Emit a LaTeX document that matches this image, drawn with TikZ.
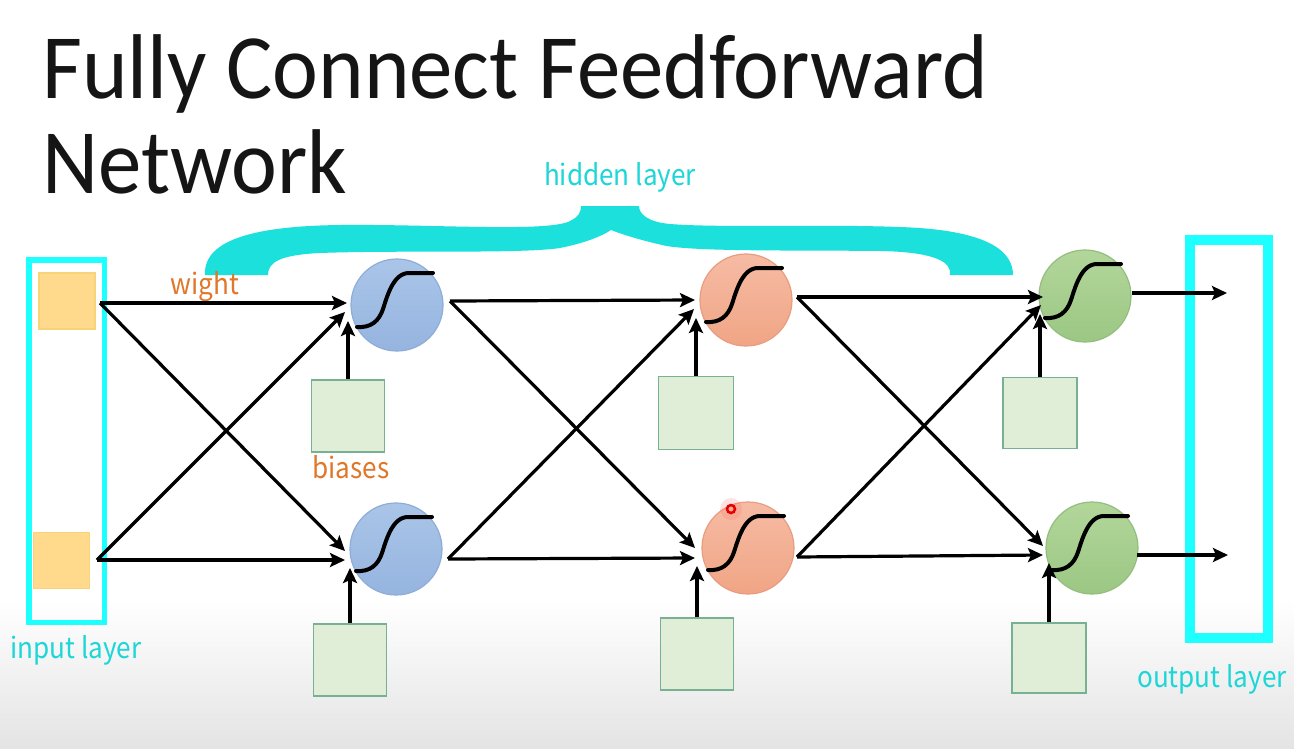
\documentclass[tikz,border=0pt]{standalone}
\usepackage{fontspec}
\setmainfont{Carlito}
\newfontfamily\labelfont{Noto Sans CJK SC}
\usetikzlibrary{arrows.meta,calc}
\definecolor{cyanbox}{HTML}{1EFFFF}
\definecolor{cyantxt}{HTML}{1CD6D8}
\definecolor{bracecol}{HTML}{1BE0DC}
\definecolor{orangetxt}{HTML}{E0772A}
\definecolor{bluetop}{HTML}{AAC5E8}
\definecolor{bluebot}{HTML}{95B4DF}
\definecolor{blueline}{HTML}{8EADD8}
\definecolor{ortop}{HTML}{F6BBA4}
\definecolor{orbot}{HTML}{F0A585}
\definecolor{orline}{HTML}{E89D80}
\definecolor{grtop}{HTML}{B3D69B}
\definecolor{grbot}{HTML}{9BC783}
\definecolor{grline}{HTML}{93BE7E}
\definecolor{biasfill}{HTML}{E0EED8}
\definecolor{biasline}{HTML}{78B094}
\definecolor{inpfill}{HTML}{FFD98C}
\definecolor{inpline}{HTML}{F8D37A}
\definecolor{bgbot}{HTML}{E4E4E4}
\definecolor{titlecol}{HTML}{151515}
\newcommand\sqz[1]{\scalebox{0.9}[1]{#1}}
\newcommand\tsqz[1]{\scalebox{0.944}[1]{#1}}
\begin{document}
\begin{tikzpicture}[x=1pt,y=-1pt,
  titletext/.style={font=\fontsize{92}{110}\selectfont, inner sep=0pt, text=titlecol, anchor=base west},
  lbl/.style={font=\labelfont\fontsize{29}{34}\selectfont, inner sep=0pt, anchor=base},
  neuron/.style={circle, inner sep=0pt, minimum size=92pt, line width=1.2pt},
  blueN/.style={neuron, draw=blueline, top color=bluetop, bottom color=bluebot},
  orN/.style={neuron, draw=orline, top color=ortop, bottom color=orbot},
  grN/.style={neuron, draw=grline, top color=grtop, bottom color=grbot},
  biasbox/.style={rectangle, inner sep=0pt, minimum width=73pt, minimum height=72pt, draw=biasline, fill=biasfill, line width=1.6pt},
  inbox/.style={rectangle, inner sep=0pt, minimum width=56pt, minimum height=56pt, draw=inpline, fill=inpfill, line width=1.2pt},
  layerbox/.style={rectangle, inner sep=0pt, draw=cyanbox},
  conn/.style={line width=3.2pt, -{Stealth[length=15pt,width=14pt,inset=3pt]}},
  sigline/.style={line width=4pt, line cap=round}
]
\useasboundingbox (0,0) rectangle (1294,748);
\fill[white] (0,0) rectangle (1294,748);
\shade[top color=white, bottom color=bgbot] (0,600) rectangle (1294,748);

% title
\node[titletext] (t1) at (42,98) {\tsqz{Fully Connect Feedforward}};
\node[titletext] (t2) at (42,193) {\tsqz{Network}};

% brace
\fill[bracecol] (205,275) .. controls (203,238) and (260,226) .. (340,225)
  .. controls (430,224) and (540,232) .. (568,222)
  .. controls (579,217) and (581,212) .. (581,206) -- (639,206)
  .. controls (639,214) and (648,222) .. (670,224)
  .. controls (720,228) and (820,224) .. (900,227)
  .. controls (990,230) and (1013,252) .. (1013,275) -- (950,275)
  .. controls (952,262) and (935,252) .. (880,251)
  .. controls (800,250) and (690,252) .. (662,245)
  .. controls (632,238) and (616,232) .. (611,230)
  .. controls (605,234) and (590,242) .. (560,248)
  .. controls (520,254) and (400,250) .. (320,253)
  .. controls (280,255) and (268,262) .. (268,275) -- cycle;

% labels
\node[lbl, text=cyantxt] (lh) at (620,185) {\sqz{hidden layer}};
\node[lbl, text=cyantxt] (li) at (76,658) {\sqz{input layer}};
\node[lbl, text=cyantxt] (lo) at (1212,687) {\sqz{output layer}};
\node[lbl, text=orangetxt] (lw) at (205,294) {\sqz{wight}};
\node[lbl, text=orangetxt] (lb) at (351,478) {\sqz{biases}};

% layer boxes
\node[layerbox, line width=5.5pt, minimum width=75.5pt, minimum height=362.5pt] (inL) at (66.75,441.25) {};
\node[layerbox, line width=10pt, minimum width=78pt, minimum height=398pt] (outL) at (1229,439) {};

% inputs
\node[inbox] (i1) at (67,301) {};
\node[inbox] (i2) at (61.5,560.5) {};
\coordinate (i1o) at (100,303);
\coordinate (i2o) at (97,560);

% neurons
\node[blueN] (h1) at (397,305) {};
\node[blueN] (h2) at (396,549) {};
\node[orN] (o1) at (746,300) {};
\node[orN] (o2) at (748,548) {};
\node[grN] (g1) at (1085,296) {};
\node[grN] (g2) at (1092,548) {};

% biases
\node[biasbox] (b1) at (348,416) {};
\node[biasbox] (b2) at (350,660) {};
\node[biasbox, minimum width=75pt, minimum height=73pt] (c1) at (696,413) {};
\node[biasbox] (c2) at (697,654) {};
\node[biasbox, minimum width=74pt, minimum height=71pt] (d1) at (1040,413) {};
\node[biasbox, minimum width=74pt, minimum height=70pt] (d2) at (1049,658) {};

% sigmoids
\foreach \n in {h1,h2,o1,o2,g1,g2}{
  \begin{scope}[shift={(\n)}]
  \draw[sigline] (-40,22) .. controls (-26,23) and (-18,16) .. (-14,4)
     .. controls (-10,-8) and (-4,-32) .. (12,-32) -- (36,-32);
  \end{scope}
}

% arrow tip coordinates
\coordinate (h1hz) at (347,303); \coordinate (h1dg) at (345,312); \coordinate (h1vt) at (348,321);
\coordinate (h2dg) at (345,551); \coordinate (h2hz) at (345,560); \coordinate (h2vt) at (350,568);
\coordinate (o1hz) at (695,300); \coordinate (o1dg) at (694,309); \coordinate (o1vt) at (696,318);
\coordinate (o2dg) at (695,548); \coordinate (o2hz) at (695,558); \coordinate (o2vt) at (697,566);
\coordinate (g1hz) at (1043,297); \coordinate (g1dg) at (1041,305); \coordinate (g1vt) at (1040,314);
\coordinate (g2dg) at (1043,546); \coordinate (g2hz) at (1043,555); \coordinate (g2vt) at (1049,563);
% out start coordinates
\coordinate (h1o) at (450,301); \coordinate (h2o) at (448,559);
\coordinate (o1o) at (797,297); \coordinate (o2o) at (797,557);
\coordinate (g1o) at (1132,293); \coordinate (g2o) at (1137,555);
\coordinate (y1) at (1227,293); \coordinate (y2) at (1228,555);

% connections layer 0 -> 1
\draw[conn] (i1o) -- (h1hz);
\draw[conn] (i1o) -- (h2dg);
\draw[conn] (i2o) -- (h1dg);
\draw[conn] (i2o) -- (h2hz);
% layer 1 -> 2
\draw[conn] (h1o) -- (o1hz);
\draw[conn] (h1o) -- (o2dg);
\draw[conn] (h2o) -- (o1dg);
\draw[conn] (h2o) -- (o2hz);
% layer 2 -> 3
\draw[conn] (o1o) -- (g1hz);
\draw[conn] (o1o) -- (g2dg);
\draw[conn] (o2o) -- (g1dg);
\draw[conn] (o2o) -- (g2hz);
% outputs
\draw[conn] (g1o) -- (y1);
\draw[conn] (g2o) -- (y2);
% biases
\draw[conn] (b1.north) -- (h1vt);
\draw[conn] (b2.north) -- (h2vt);
\draw[conn] (c1.north) -- (o1vt);
\draw[conn] (c2.north) -- (o2vt);
\draw[conn] (d1.north) -- (g1vt);
\draw[conn] (d2.north) -- (g2vt);

% laser pointer dot
\fill[red!60, opacity=0.18] (731,509) circle (11);
\draw[red!90!black, line width=2.5pt] (731,509) circle (4);
\end{tikzpicture}
\end{document}
